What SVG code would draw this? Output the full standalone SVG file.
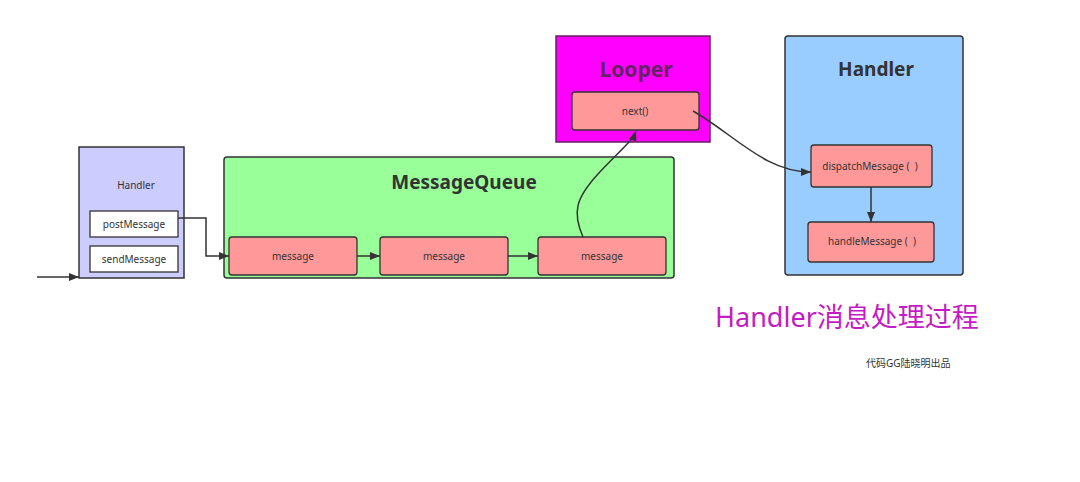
<svg xmlns="http://www.w3.org/2000/svg" width="1080" height="482" viewBox="0 0 1080 482">
<style>
text{font-family:"Noto Sans","Noto Sans CJK SC",sans-serif;text-anchor:middle;dominant-baseline:central;fill:#333}
.sm{font-size:10px}
.item{fill:#ff9999;stroke:#333;stroke-width:1.3}
.white{fill:#fff;stroke:#333;stroke-width:1.3}
.title{font-size:19px;font-weight:bold}
.conn{fill:none;stroke:#333;stroke-width:1.5}
</style>
<defs>
<marker id="ah" viewBox="0 0 10 10" refX="10" refY="5" markerWidth="10" markerHeight="10" markerUnits="userSpaceOnUse" orient="auto">
<path d="M0,1 L10,5 L0,9 Z" fill="#333"/>
</marker>
</defs>
<rect width="1080" height="482" fill="#fff"/>
<g id="handler-left">
<rect x="79" y="147" width="105" height="131" fill="#ccccff" stroke="#333" stroke-width="1.5"/>
<text x="136" y="185" class="sm">Handler</text>
<rect x="90" y="211" width="88" height="26" class="white"/>
<text x="134" y="224" class="sm">postMessage</text>
<rect x="90" y="246" width="88" height="26" class="white"/>
<text x="134" y="259" class="sm">sendMessage</text>
</g>
<g id="messagequeue">
<rect x="224" y="157" width="450" height="121" rx="3" fill="#99ff99" stroke="#333" stroke-width="1.5"/>
<text x="464" y="182" class="title">MessageQueue</text>
</g>
<g id="message1">
<rect x="229" y="237" width="128" height="38" rx="3" class="item"/>
<text x="293" y="256" class="sm">message</text>
</g>
<g id="message2">
<rect x="380" y="237" width="128" height="38" rx="3" class="item"/>
<text x="444" y="256" class="sm">message</text>
</g>
<g id="message3">
<rect x="538" y="237" width="128" height="38" rx="3" class="item"/>
<text x="602" y="256" class="sm">message</text>
</g>
<g id="looper">
<rect x="556" y="36" width="154" height="106" fill="#ff00ff" stroke="#662266" stroke-width="1.5"/>
<text x="636" y="69" class="title" style="font-size:21px;fill:#662266">Looper</text>
</g>
<g id="next">
<rect x="572" y="92" width="127" height="38" rx="3" class="item"/>
<text x="635" y="111" class="sm">next()</text>
</g>
<g id="handler-right">
<rect x="785" y="36" width="178" height="239" rx="3" fill="#99ccff" stroke="#333" stroke-width="1.5"/>
<text x="876" y="69" class="title">Handler</text>
</g>
<g id="dispatch">
<rect x="811" y="145" width="121" height="42" rx="3" class="item"/>
<text x="870" y="166" class="sm">dispatchMessage (&#160;&#160;)</text>
</g>
<g id="handle">
<rect x="808" y="222" width="126" height="40" rx="3" class="item"/>
<text x="872" y="241" class="sm">handleMessage (&#160;&#160;)</text>
</g>
<g id="connectors">
<path class="conn" d="M37,277 H79" marker-end="url(#ah)"/>
<path class="conn" d="M178,218 H206 V256 H229" marker-end="url(#ah)"/>
<path class="conn" d="M357,256 H380" marker-end="url(#ah)"/>
<path class="conn" d="M508,256 H538" marker-end="url(#ah)"/>
<path class="conn" d="M583,237 C572,212 576,198 598,174 C618,152 632,142 636,131" marker-end="url(#ah)"/>
<path class="conn" d="M693,111 C735,135 765,172 811,172" marker-end="url(#ah)"/>
<path class="conn" d="M871,187 V222" marker-end="url(#ah)"/>
</g>
<g id="labels">
<text x="715" y="316" style="font-size:27px;text-anchor:start;fill:#c41cc4">Handler消息处理过程</text>
<text x="866" y="363" style="font-size:10px;text-anchor:start">代码GG陆晓明出品</text>
</g>
</svg>
